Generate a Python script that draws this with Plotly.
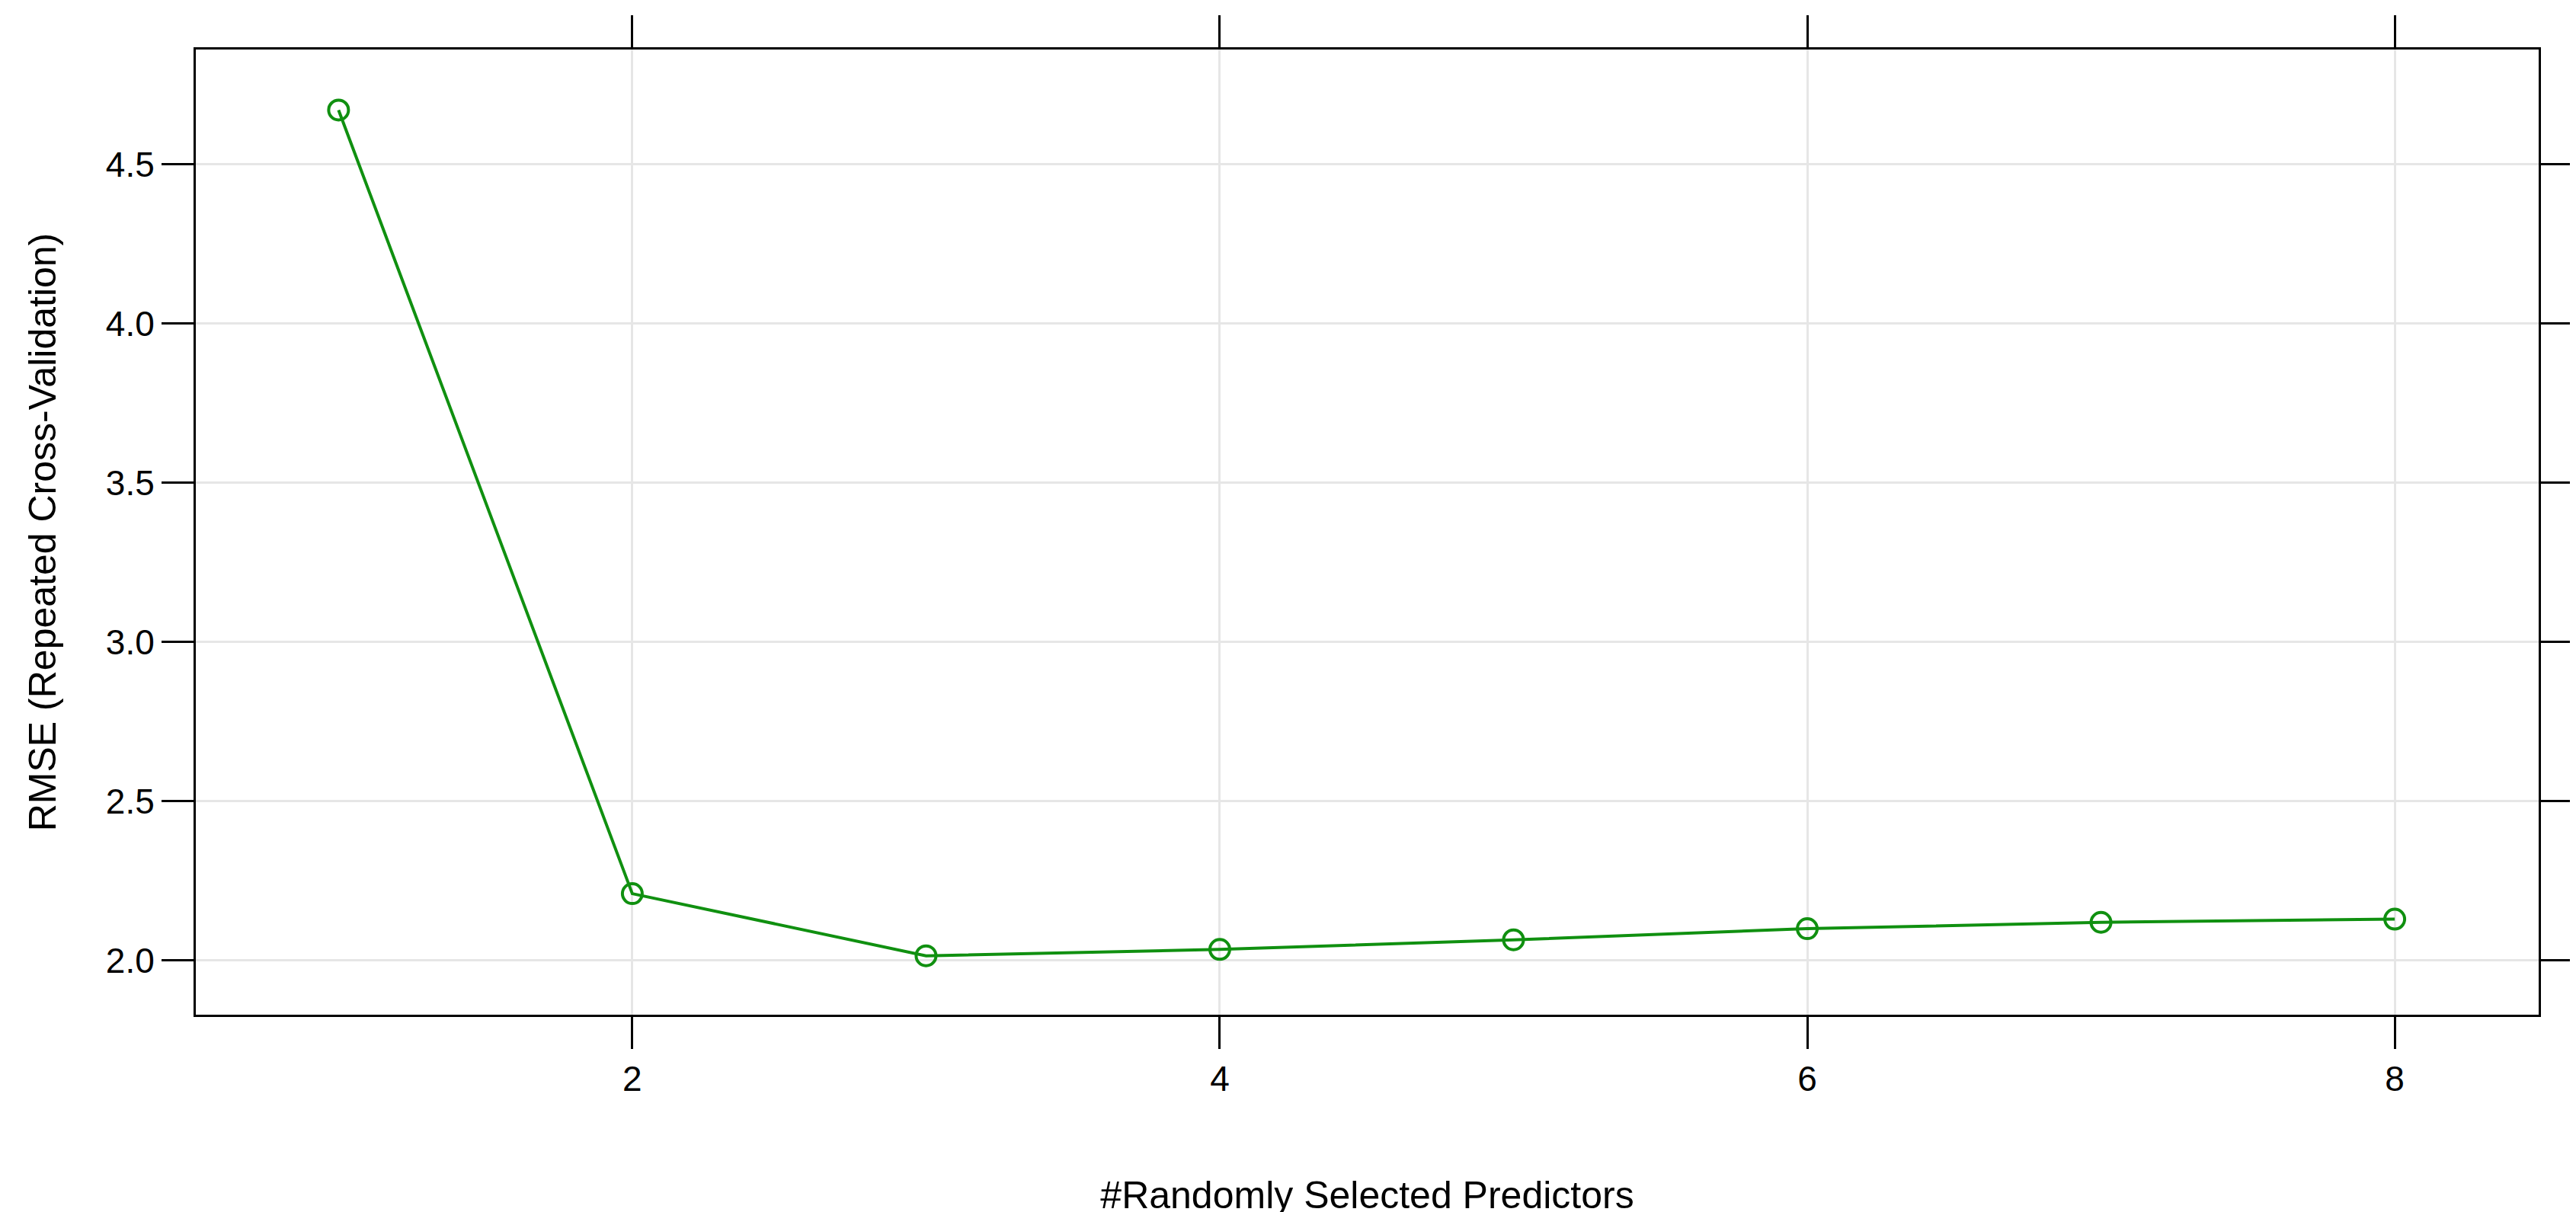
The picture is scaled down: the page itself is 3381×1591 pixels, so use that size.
import plotly.graph_objects as go

# tuning results: mtry vs cross-validated RMSE
predictors = [1, 2, 3, 4, 5, 6, 7, 8]
rmse = [4.67, 2.21, 2.015, 2.035, 2.065, 2.10, 2.12, 2.13]

x_ticks = [2, 4, 6, 8]
y_ticks = [2.0, 2.5, 3.0, 3.5, 4.0, 4.5]
y_tick_text = ["2.0", "2.5", "3.0", "3.5", "4.0", "4.5"]

green = "#109010"

fig = go.Figure()
fig.add_trace(go.Scatter(
    x=predictors, y=rmse,
    mode="lines+markers",
    line=dict(color=green, width=4),
    marker=dict(symbol="circle-open", size=26, color=green, line=dict(width=4)),
    showlegend=False,
))

axis_common = dict(
    showline=True, linecolor="black", linewidth=3, mirror="ticks",
    ticks="outside", ticklen=42, tickwidth=3, tickcolor="black",
    showgrid=True, gridcolor="#e6e6e6", gridwidth=3,
    zeroline=False,
    tickfont=dict(size=46, color="black"),
)

fig.update_xaxes(
    range=[0.514, 8.49], tickvals=x_ticks,
    title=dict(text="#Randomly Selected Predictors", font=dict(size=50, color="black"), standoff=110),
    **axis_common,
)
fig.update_yaxes(
    range=[1.83, 4.86], tickvals=y_ticks, ticktext=y_tick_text,
    title=dict(text="RMSE (Repeated Cross-Validation)", font=dict(size=50, color="black"), standoff=50),
    **axis_common,
)

fig.update_layout(
    width=3381, height=1591,
    margin=dict(l=249, r=30, t=23, b=225),
    plot_bgcolor="white", paper_bgcolor="white",
    font=dict(family="Liberation Sans, Arial, sans-serif"),
)

fig.write_html("out.html")
